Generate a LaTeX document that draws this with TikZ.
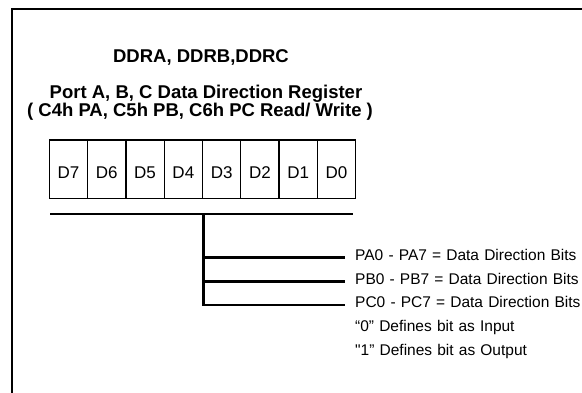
\documentclass[tikz,border=0pt]{standalone}
\usepackage{fontspec}
\setmainfont{Liberation Sans}
\newfontfamily\notefont[WordSpace=1.2]{Liberation Sans}
\tikzset{
  frame/.style={line width=2pt},
  cell/.style={draw, line width=1.3pt, minimum width=38.3pt, minimum height=58.5pt,
    inner sep=0pt, text height=19.4pt, text depth=0pt, font=\fontsize{17}{17}\selectfont},
  head/.style={anchor=base, inner sep=0pt, font=\bfseries\fontsize{18.5}{20}\selectfont},
  bus/.style={line width=2.6pt},
  row/.style={anchor=mid west, inner sep=0pt, font=\notefont\fontsize{15.5}{16}\selectfont}
}
\begin{document}
\begin{tikzpicture}[x=1pt,y=1pt]
  \useasboundingbox (0,0) rectangle (582,393);
  \def\w{38.3};
  \def\dy{23.8};
  % frame of the slide
  \draw[frame] (12.3,-5) -- (12.3,383.7) -- (590,383.7);
  % headings
  \node[head] (title) at (201,330) {DDRA, DDRB,DDRC};
  \node[head] (name) at (206,294.5) {Port A, B, C Data Direction Register};
  \node[head] (addr) at (200,276.5) {( C4h PA, C5h PB, C6h PC Read/ Write )};
  % register bits
  \foreach \b [count=\i from 0] in {7,...,0}
    \node[cell] (d\b) at ({68.45+\w*\i},223.75) {D\b};
  % bus under the register
  \coordinate (busL) at (50,179);
  \coordinate (busR) at (352.7,179);
  \coordinate (tap) at (203.3,179);
  \draw[bus] (busL) -- (busR);
  % notes
  \node[row] (pa) at (355,135.4) {PA0 - PA7 = Data Direction Bits};
  \node[row] (pb) at (355,135.4-\dy) {PB0 - PB7 = Data Direction Bits};
  \node[row] (pc) at (355,135.4-2*\dy) {PC0 - PC7 = Data Direction Bits};
  \node[row] (zero) at (355,135.4-3*\dy) {“0” Defines bit as Input};
  \node[row] (one) at (355,135.4-4*\dy) {"1” Defines bit as Output};
  \draw[bus] (tap) |- ([xshift=-10pt]pc.mid west);
  \foreach \r in {pa,pb}
    \draw[bus] (tap |- \r.mid west) -- ([xshift=-10pt]\r.mid west);
\end{tikzpicture}
\end{document}
